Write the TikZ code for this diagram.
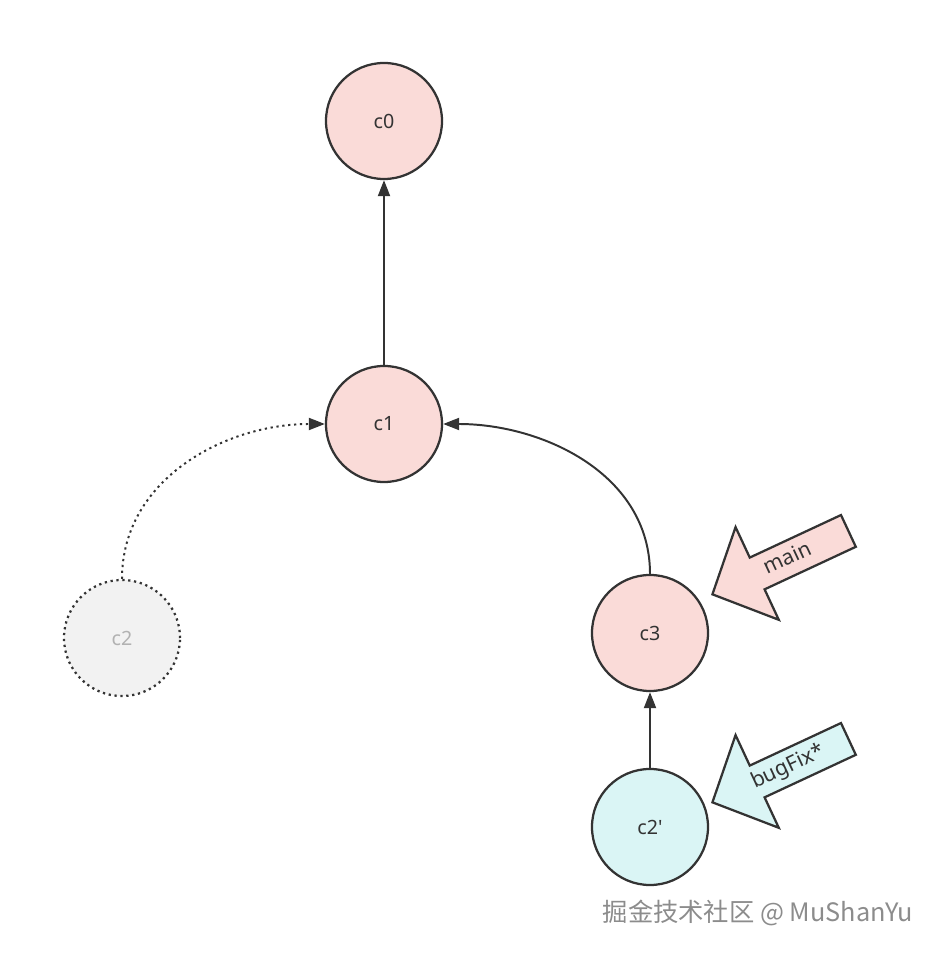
\documentclass[tikz,border=0pt]{standalone}
\usepackage{fontspec}
\setmainfont{Noto Sans}
\newfontfamily\cjk{Noto Sans CJK SC}
\usetikzlibrary{arrows.meta}
\usetikzlibrary{shapes.arrows}
\definecolor{commitred}{HTML}{FADBD8}
\definecolor{commitcyan}{HTML}{DAF5F5}
\definecolor{commitgray}{HTML}{F2F2F2}
\definecolor{linegray}{HTML}{333333}
\tikzstyle{commit}=[circle, draw=linegray, text=linegray, line width=1.6pt, minimum size=2.9cm, inner sep=0pt, font=\fontsize{14}{16}\selectfont]
\tikzstyle{commit_gone}=[commit, fill=commitgray, text=black!30, dash pattern=on 1.6pt off 2.6pt]
\tikzstyle{branch_ptr}=[single arrow, draw=linegray, text=linegray, line width=1.6pt, shape border rotate=180, rotate=25, anchor=tip,
    minimum height=3.75cm, single arrow head extend=0.84cm, single arrow tip angle=92,
    text height=0.38cm, text depth=0.1cm, inner ysep=0.17cm, inner xsep=0.15cm, font=\fontsize{15}{17}\selectfont]
\tikzstyle{parent}=[draw=linegray, line width=1.4pt, -{Triangle[length=0.4cm,width=0.3cm]}]

\begin{document}
\begin{tikzpicture}[x=0.025cm, y=0.025cm]
          \useasboundingbox (0,0) rectangle (941,954);
          \node[commit, fill=commitred] (c0) at (384,833){c0};
          \node[commit, fill=commitred] (c1) at (384,530){c1};
          \node[commit_gone] (c2) at (122,316){c2};
          \node[commit, fill=commitred] (c3) at (650,321){c3};
          \node[commit, fill=commitcyan] (c2p) at (650,127){c2\textquotesingle};
          \node[branch_ptr, fill=commitred] (main) at (711,359){main};
          \node[branch_ptr, fill=commitcyan] (bugfix) at (711,151){bugFix*};
          \node[text=black!45, font=\cjk\fontsize{18}{20}\selectfont] (mark) at (758,41){掘金技术社区 @ MuShanYu};
          \draw[parent](c1) -- (c0);
          \draw[parent](c3.north) to[out=90, in=0] (c1.east);
          \draw[parent, dash pattern=on 1.6pt off 2.6pt](c2.north) to[out=90, in=180] (c1.west);
          \draw[parent](c2p) -- (c3);
        \end{tikzpicture}
\end{document}
